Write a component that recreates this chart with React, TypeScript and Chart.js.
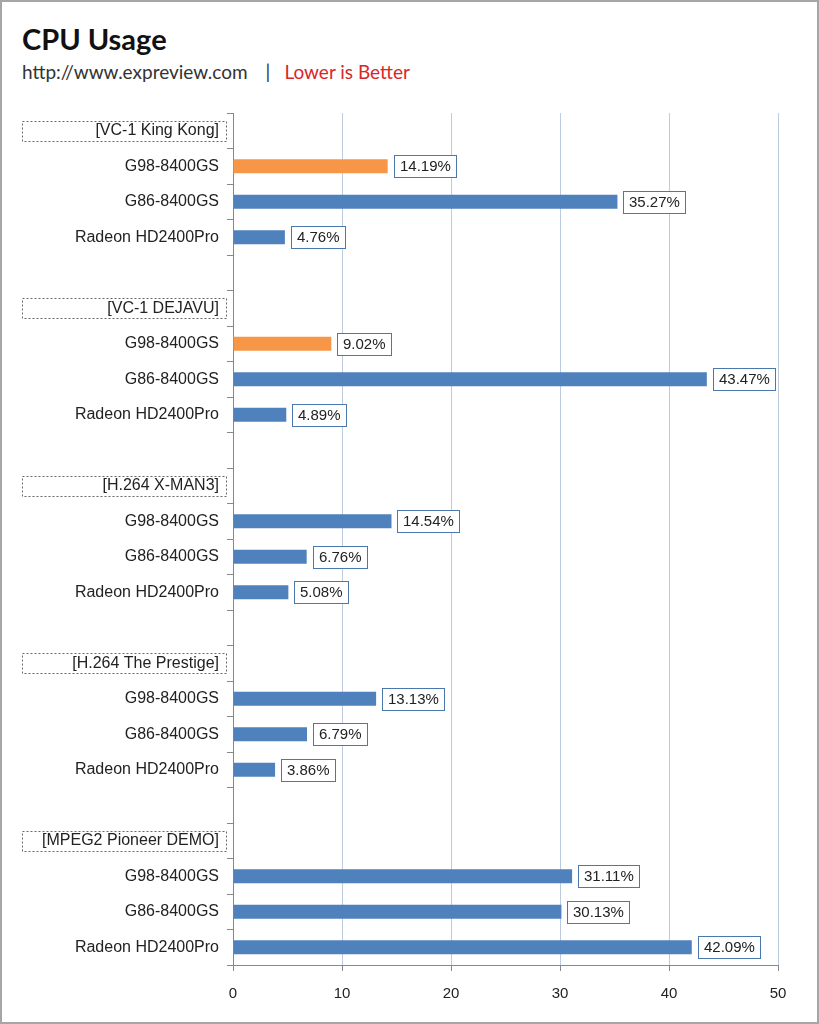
import React, { useEffect, useRef } from "react";
import { Chart, registerables } from "chart.js";

Chart.register(...registerables);

const categories: string[] = [
  "[VC-1 King Kong]", "G98-8400GS", "G86-8400GS", "Radeon HD2400Pro", "",
  "[VC-1 DEJAVU]", "G98-8400GS", "G86-8400GS", "Radeon HD2400Pro", "",
  "[H.264 X-MAN3]", "G98-8400GS", "G86-8400GS", "Radeon HD2400Pro", "",
  "[H.264 The Prestige]", "G98-8400GS", "G86-8400GS", "Radeon HD2400Pro", "",
  "[MPEG2 Pioneer DEMO]", "G98-8400GS", "G86-8400GS", "Radeon HD2400Pro",
];

const cpuUsage: (number | null)[] = [
  null, 14.19, 35.27, 4.76, null,
  null, 9.02, 43.47, 4.89, null,
  null, 14.54, 6.76, 5.08, null,
  null, 13.13, 6.79, 3.86, null,
  null, 31.11, 30.13, 42.09,
];

const highlightRows: number[] = [1, 6];

const xTicks: number[] = [0, 10, 20, 30, 40, 50];

const BLUE = "#4F81BD";
const ORANGE = "#F79646";
const LABEL_FONT = "'Liberation Sans', Arial, sans-serif";

const barColors = cpuUsage.map((_, i) => (highlightRows.includes(i) ? ORANGE : BLUE));

const decorPlugin = {
  id: "decor",
  afterDraw(chart: any) {
    const ctx = chart.ctx;
    const yScale = chart.scales.y;
    ctx.save();
    ctx.strokeStyle = "#666";
    ctx.lineWidth = 1;
    ctx.setLineDash([2, 2]);
    categories.forEach((c, i) => {
      if (c.startsWith("[")) {
        const y = yScale.getPixelForValue(i);
        ctx.strokeRect(22.5, Math.round(y - 10) + 0.5, 204, 20);
      }
    });
    ctx.restore();
    const meta = chart.getDatasetMeta(0);
    ctx.save();
    ctx.font = `15px ${LABEL_FONT}`;
    ctx.textBaseline = "middle";
    meta.data.forEach((bar: any, i: number) => {
      const v = cpuUsage[i];
      if (v == null) return;
      const text = v.toFixed(2) + "%";
      const w = Math.round(ctx.measureText(text).width + 11);
      const h = 22;
      const x = Math.round(bar.x + 6) + 0.5;
      const y = Math.round(bar.y - h / 2) + 0.5;
      ctx.fillStyle = "#fff";
      ctx.fillRect(x, y, w, h);
      ctx.strokeStyle = "#4A78AD";
      ctx.lineWidth = 1;
      ctx.strokeRect(x, y, w, h);
      ctx.fillStyle = "#222";
      ctx.textAlign = "left";
      ctx.fillText(text, x + 5.5, bar.y + 1);
    });
    ctx.restore();
  },
};

export default function App() {
  const ref = useRef<HTMLCanvasElement | null>(null);
  useEffect(() => {
    if (!ref.current) return;
    const chart = new Chart(ref.current, {
      type: "bar",
      data: {
        labels: categories,
        datasets: [
          {
            data: cpuUsage,
            backgroundColor: barColors,
            barPercentage: 0.4,
            categoryPercentage: 1,
          },
        ],
      },
      options: {
        indexAxis: "y",
        animation: false,
        responsive: false,
        maintainAspectRatio: false,
        layout: { padding: { top: 113, right: 41, bottom: 0, left: 0 } },
        plugins: { legend: { display: false }, tooltip: { enabled: false }, title: { display: false } },
        scales: {
          x: {
            min: 0,
            max: 50,
            afterFit: (s: any) => {
              s.height = 59;
            },
            afterBuildTicks: (s: any) => {
              s.ticks = xTicks.map((v) => ({ value: v }));
            },
            ticks: {
              font: { family: LABEL_FONT, size: 15 },
              color: "#222",
              padding: 14,
              maxRotation: 0,
            },
            grid: {
              color: (c: any) => (c.tick && c.tick.value === 0 ? "rgba(0,0,0,0)" : "#BCCBDD"),
              tickColor: "#888",
              tickLength: 6,
              drawTicks: true,
            },
            border: { color: "#888", width: 1 },
          },
          y: {
            afterFit: (s: any) => {
              s.width = 233;
            },
            ticks: {
              font: { family: LABEL_FONT, size: 16 },
              color: "#222",
              padding: 8,
              autoSkip: false,
            },
            grid: {
              offset: true,
              drawOnChartArea: false,
              tickColor: "#888",
              tickLength: 6,
            },
            border: { color: "#888", width: 1 },
          },
        },
      },
      plugins: [decorPlugin],
    });
    return () => chart.destroy();
  }, []);

  return (
    <div
      style={{
        position: "absolute",
        left: 0,
        top: 0,
        width: 819,
        height: 1024,
        background: "#fff",
        overflow: "hidden",
      }}
    >
      <div
        style={{
          position: "absolute",
          left: 0,
          top: 0,
          width: 819,
          height: 1024,
          boxSizing: "border-box",
          border: "2px solid #A6A6A6",
        }}
      />
      <div
        style={{
          position: "absolute",
          left: 22,
          top: 21,
          fontFamily: "Lato, 'Open Sans', sans-serif",
          fontWeight: 700,
          fontSize: 29,
          color: "#111",
          whiteSpace: "nowrap",
        }}
      >
        CPU Usage
      </div>
      <div
        style={{
          position: "absolute",
          left: 22,
          top: 60,
          fontFamily: "Lato, 'Open Sans', sans-serif",
          fontSize: 19,
          color: "#333",
          whiteSpace: "nowrap",
        }}
      >
        <span>http://www.expreview.com</span>
        <span style={{ marginLeft: 18, marginRight: 14 }}>|</span>
        <span style={{ color: "#D9262B" }}>Lower is Better</span>
      </div>
      <canvas ref={ref} width={819} height={1024} style={{ position: "absolute", left: 0, top: 0 }} />
    </div>
  );
}
